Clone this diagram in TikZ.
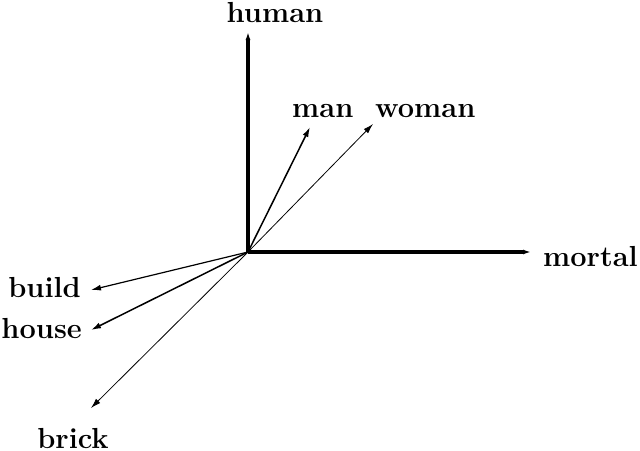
\documentclass[tikz,border=0pt]{standalone}
\usetikzlibrary{arrows.meta}
\tikzset{
  axis/.style = {line width=3.4pt, -{Latex[length=8pt,width=5pt]}},
  vec/.style = {line width=#1, -{Latex[length=10pt,width=6pt]}},
  vec/.default = 0.9pt,
  word/.style = {inner sep=0pt, font=\fontsize{29}{35}\selectfont\bfseries}
}
\begin{document}
\begin{tikzpicture}[x=1pt, y=-1pt]
\useasboundingbox (0,0) rectangle (640,450);
% origin and vector tips
\coordinate (O) at (248,252);
\coordinate (human) at (248,32);
\coordinate (mortal) at (531,252);
\coordinate (man) at (310,127);
\coordinate (woman) at (373,124);
\coordinate (build) at (91,290);
\coordinate (house) at (91,330);
\coordinate (brick) at (91,408);
% labels
\node[word, anchor=base] (lhuman) at (275,22) {human};
\node[word, anchor=base west] (lmortal) at (543,266) {mortal};
\node[word, anchor=base west] (lman) at (292,117) {man};
\node[word, anchor=base west] (lwoman) at (375,117) {woman};
\node[word, anchor=base east] (lbuild) at (81,297) {build};
\node[word, anchor=base east] (lhouse) at (82,338) {house};
\node[word, anchor=base] (lbrick) at (73,448) {brick};
% axes
\draw[axis] (O) -- (human);
\draw[axis] (O) -- (mortal);
% word vectors
\draw[vec=1.5pt] (O) -- (man);
\draw[vec=0.8pt] (O) -- (woman);
\draw[vec=1.2pt] (O) -- (build);
\draw[vec=1.5pt] (O) -- (house);
\draw[vec=0.8pt] (O) -- (brick);
\end{tikzpicture}
\end{document}
